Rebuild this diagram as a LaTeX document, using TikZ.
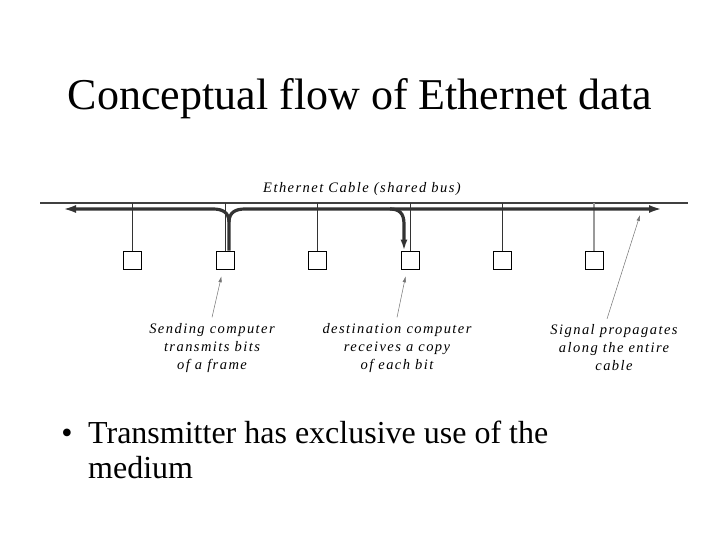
\documentclass[tikz,border=0pt]{standalone}
\usepackage{fontspec}
\setmainfont{Liberation Serif}
\newfontfamily\labfont[LetterSpace=10]{Liberation Serif}
\usetikzlibrary{arrows.meta}
\begin{document}
\begin{tikzpicture}[x=1pt,y=-1pt,
 station/.style={draw, line width=0.8pt, minimum size=18pt, inner sep=0pt},
 cable/.style={line width=1.3pt, black!75},
 drop/.style={line width=0.9pt, black!80},
 sig/.style={line width=3.2pt, black!80},
 sigarrow/.style={-{Latex[length=13pt,width=8pt]}},
 ptr/.style={line width=0.5pt, black!55, -{Latex[length=6pt,width=3.5pt]}},
 lab/.style={font=\labfont\itshape\fontsize{14.5}{18}\selectfont, align=center, inner sep=0pt, outer sep=6pt},
]
\useasboundingbox[fill=white] (0,0) rectangle (720,540);

% title
\node[anchor=base, inner sep=0pt, font=\fontsize{44}{50}\selectfont] (title) at (360,110) {Conceptual flow of Ethernet data};

% cable
\coordinate (cl) at (40,203);
\coordinate (cr) at (688,203);
\draw[cable] (cl) -- (cr);
\node[lab, anchor=base, outer sep=0pt] (cabname) at (362,193) {Ethernet Cable (shared bus)};

% stations
\node[station] (s1) at (132,260) {};
\node[station] (s2) at (225,260) {};
\node[station] (s3) at (317,260) {};
\node[station] (s4) at (410,260) {};
\node[station] (s5) at (502,260) {};
\node[station] (s6) at (594,260) {};
\foreach \s in {s1,s2,s3,s4,s5}{\draw[drop] (\s |- cl) -- (\s.north);}
\draw[drop, black!40, line width=1.2pt] (s6 |- cl) -- (s6.north);

% signal
\coordinate (tipL) at (63,209);
\coordinate (tipR) at (662,209);
\coordinate (junc) at (229,222);
\coordinate (tap) at (390,209);
\draw[sig, sigarrow] ([xshift=4]s2.north) -- (junc) .. controls (229,212) and (222,209) .. (213,209) -- (tipL);
\draw[sig, sigarrow] (junc) .. controls (229,212) and (236,209) .. (245,209) -- (tipR);
\draw[sig, -{Latex[length=11pt,width=7pt]}] (tap) .. controls (399,209) and (404,213) .. (404,224) -- ([xshift=-6]s4.north);

% labels
\node[lab] (lab1) at (212,348) {Sending computer\\transmits bits\\of a frame};
\node[lab] (lab2) at (397,348) {destination computer\\receives a copy\\of each bit};
\node[lab] (lab3) at (614,348) {Signal propagates\\along the entire\\cable};
\coordinate (sigtip) at (640,215);
\draw[ptr, shorten >=7pt] (lab1.north) -- ([xshift=-2]s2.south);
\draw[ptr, shorten >=7pt] (lab2.north) -- ([xshift=-3]s4.south);
\draw[ptr] ([xshift=-7]lab3.north) -- (sigtip);

% bullet
\node[anchor=base, inner sep=0pt, font=\fontsize{32}{38}\selectfont] (bul) at (67,443) {•};
\node[anchor=base west, inner sep=0pt, font=\fontsize{32}{38}\selectfont] (b1) at (88,443) {Transmitter has exclusive use of the};
\node[anchor=base west, inner sep=0pt, font=\fontsize{32}{38}\selectfont] (b2) at (88,478) {medium};
\end{tikzpicture}
\end{document}
